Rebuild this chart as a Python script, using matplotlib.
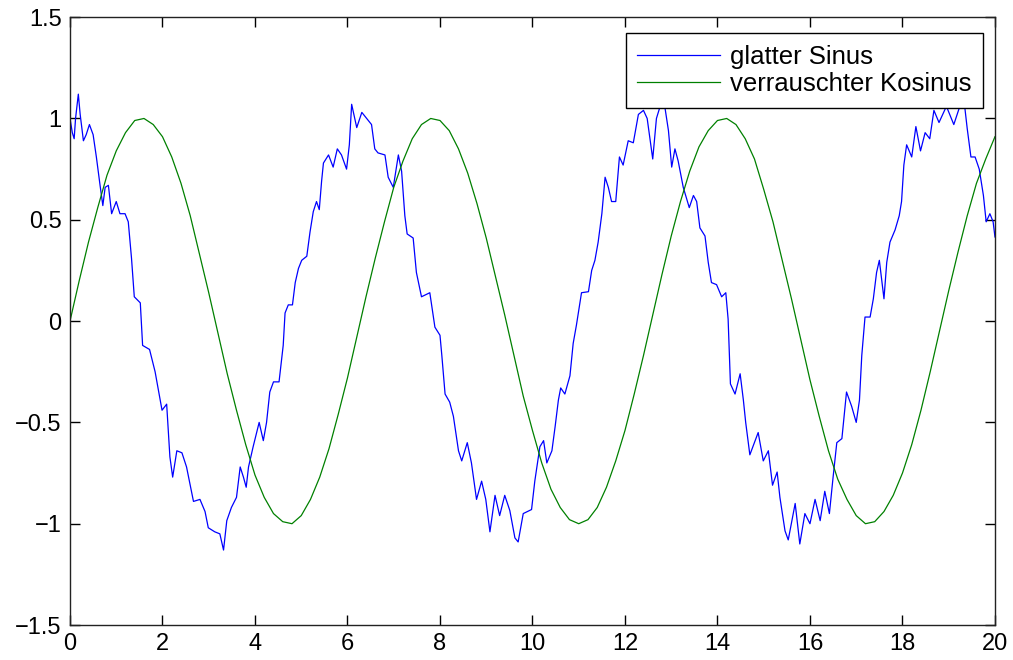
import matplotlib
matplotlib.use("Agg")
import matplotlib.pyplot as plt

plt.rcParams['font.family'] = ['Liberation Sans', 'DejaVu Sans']

# noisy blue curve
bx = [0.00, 0.05, 0.09, 0.12, 0.18, 0.22, 0.29, 0.35, 0.42, 0.50, 0.57, 0.65, 0.71, 0.76, 0.83,
      0.90, 1.00, 1.08, 1.19, 1.26, 1.33, 1.39, 1.52, 1.57, 1.72, 1.84, 1.99, 2.09, 2.16, 2.22,
      2.31, 2.42, 2.52, 2.67, 2.81, 2.92, 2.99, 3.13, 3.24, 3.32, 3.39, 3.49, 3.60, 3.68, 3.75,
      3.81, 3.86, 3.96, 4.09, 4.18, 4.25, 4.32, 4.40, 4.52, 4.61, 4.65, 4.72, 4.81, 4.87, 4.94,
      5.01, 5.12, 5.19, 5.26, 5.33, 5.39, 5.44, 5.48, 5.59, 5.69, 5.78, 5.87, 5.98, 6.04, 6.09,
      6.20, 6.31, 6.45, 6.52, 6.59, 6.66, 6.81, 6.88, 6.99, 7.10, 7.17, 7.24, 7.29, 7.42, 7.49,
      7.60, 7.78, 7.89, 8.00, 8.04, 8.11, 8.21, 8.29, 8.40, 8.47, 8.59, 8.68, 8.79, 8.90, 8.99,
      9.08, 9.19, 9.29, 9.40, 9.51, 9.62, 9.69, 9.80, 9.98, 10.05, 10.16, 10.24, 10.31, 10.42, 10.49,
      10.56, 10.61, 10.70, 10.81, 10.88, 10.95, 11.06, 11.21, 11.28, 11.35, 11.42, 11.50, 11.57, 11.64, 11.71,
      11.80, 11.88, 11.96, 12.07, 12.18, 12.29, 12.40, 12.48, 12.60, 12.68, 12.76, 12.86, 12.94, 13.01, 13.08,
      13.15, 13.26, 13.39, 13.48, 13.55, 13.62, 13.73, 13.80, 13.87, 13.98, 14.09, 14.18, 14.23, 14.28, 14.38,
      14.49, 14.56, 14.61, 14.70, 14.88, 14.99, 15.10, 15.19, 15.29, 15.35, 15.46, 15.53, 15.68, 15.78, 15.89,
      16.00, 16.11, 16.22, 16.32, 16.42, 16.50, 16.58, 16.69, 16.79, 16.90, 17.00, 17.07, 17.12, 17.19, 17.30,
      17.37, 17.44, 17.50, 17.60, 17.66, 17.73, 17.84, 17.93, 17.98, 18.03, 18.09, 18.20, 18.29, 18.39, 18.49,
      18.59, 18.68, 18.79, 18.95, 19.11, 19.24, 19.35, 19.40, 19.48, 19.57, 19.66, 19.75, 19.81, 19.89, 19.96,
      20.00]
by = [1.00, 0.93, 0.90, 1.00, 1.12, 1.02, 0.89, 0.92, 0.97, 0.92, 0.81, 0.67, 0.57, 0.66, 0.67,
      0.53, 0.59, 0.53, 0.53, 0.49, 0.31, 0.12, 0.09, -0.12, -0.14, -0.25, -0.44, -0.41, -0.67, -0.77,
      -0.64, -0.65, -0.72, -0.89, -0.88, -0.94, -1.02, -1.04, -1.05, -1.13, -0.985, -0.92, -0.87, -0.72, -0.77,
      -0.82, -0.72, -0.62, -0.50, -0.59, -0.50, -0.35, -0.30, -0.30, -0.12, 0.04, 0.08, 0.08, 0.19, 0.26,
      0.30, 0.32, 0.44, 0.54, 0.59, 0.55, 0.69, 0.78, 0.82, 0.76, 0.85, 0.82, 0.75, 0.87, 1.07,
      0.955, 1.03, 0.99, 0.97, 0.85, 0.83, 0.82, 0.71, 0.66, 0.82, 0.74, 0.52, 0.43, 0.41, 0.24,
      0.12, 0.14, -0.03, -0.07, -0.17, -0.36, -0.40, -0.47, -0.64, -0.69, -0.60, -0.70, -0.88, -0.79, -0.88,
      -1.04, -0.86, -0.96, -0.86, -0.935, -1.07, -1.09, -0.95, -0.93, -0.79, -0.62, -0.59, -0.70, -0.64, -0.52,
      -0.39, -0.33, -0.36, -0.27, -0.11, -0.02, 0.14, 0.145, 0.25, 0.30, 0.39, 0.53, 0.71, 0.66, 0.59,
      0.59, 0.81, 0.77, 0.89, 0.88, 1.02, 1.04, 1.00, 0.80, 1.00, 1.06, 1.06, 0.94, 0.76, 0.85,
      0.79, 0.66, 0.56, 0.62, 0.59, 0.46, 0.42, 0.29, 0.19, 0.18, 0.12, 0.14, 0.01, -0.31, -0.36,
      -0.26, -0.39, -0.50, -0.66, -0.55, -0.69, -0.64, -0.81, -0.745, -0.87, -1.035, -1.08, -0.90, -1.10, -0.95,
      -1.00, -0.88, -0.985, -0.84, -0.95, -0.77, -0.60, -0.58, -0.35, -0.42, -0.50, -0.39, -0.17, 0.02, 0.02,
      0.11, 0.24, 0.30, 0.11, 0.29, 0.39, 0.45, 0.52, 0.59, 0.77, 0.87, 0.81, 0.96, 0.84, 0.93,
      0.90, 1.04, 0.98, 1.06, 0.97, 1.06, 1.05, 0.95, 0.81, 0.81, 0.75, 0.62, 0.49, 0.53, 0.49,
      0.415]

# smooth green curve, sampled every 0.2
gx = [i * 0.2 for i in range(101)]
gy = [0.00, 0.20, 0.39, 0.56, 0.72, 0.84, 0.93, 0.99, 1.00, 0.97,
      0.91, 0.81, 0.68, 0.52, 0.33, 0.14, -0.06, -0.26, -0.44, -0.61,
      -0.76, -0.87, -0.95, -0.99, -1.00, -0.96, -0.88, -0.77, -0.63, -0.46,
      -0.28, -0.08, 0.12, 0.31, 0.49, 0.66, 0.79, 0.90, 0.97, 1.00,
      0.99, 0.94, 0.85, 0.73, 0.58, 0.41, 0.22, 0.03, -0.17, -0.37,
      -0.54, -0.70, -0.83, -0.92, -0.98, -1.00, -0.98, -0.92, -0.82, -0.69,
      -0.54, -0.36, -0.17, 0.03, 0.23, 0.42, 0.59, 0.74, 0.86, 0.94,
      0.99, 1.00, 0.97, 0.90, 0.80, 0.65, 0.49, 0.30, 0.11, -0.09,
      -0.29, -0.47, -0.64, -0.78, -0.88, -0.96, -1.00, -0.99, -0.94, -0.86,
      -0.75, -0.61, -0.44, -0.25, -0.05, 0.15, 0.34, 0.52, 0.68, 0.80,
      0.91]

labels = ['glatter Sinus', 'verrauschter Kosinus']
xticks = [0, 2, 4, 6, 8, 10, 12, 14, 16, 18, 20]
yticks = [-1.5, -1, -0.5, 0, 0.5, 1, 1.5]
ytick_labels = ['\u22121.5', '\u22121', '\u22120.5', '0', '0.5', '1', '1.5']

fig = plt.figure(figsize=(10.13, 6.6), dpi=100)
ax = fig.add_axes([0.0691, 0.053, 0.9131, 0.921])

ax.plot(bx, by, color='#0000ff', lw=0.9, label=labels[0])
ax.plot(gx, gy, color='#008000', lw=0.9, label=labels[1])

ax.set_xlim(0, 20)
ax.set_ylim(-1.5, 1.5)
ax.set_xticks(xticks)
ax.set_xticklabels([str(t) for t in xticks])
ax.set_yticks(yticks)
ax.set_yticklabels(ytick_labels)
ax.tick_params(direction='in', top=True, right=True, length=7, width=1, labelsize=17)
ax.tick_params(axis='x', pad=6)
ax.tick_params(axis='y', pad=6)
for s in ax.spines.values():
    s.set_linewidth(1.0)
    s.set_color('#222222')

leg = ax.legend(loc='upper right', bbox_to_anchor=(0.987, 0.974), borderaxespad=0,
                fontsize=18.5, fancybox=False, edgecolor='black', framealpha=1,
                handlelength=3.2, handletextpad=0.4, labelspacing=0.15, borderpad=0.45)
leg.get_frame().set_linewidth(1.0)

fig.savefig('out.png', dpi=100)
